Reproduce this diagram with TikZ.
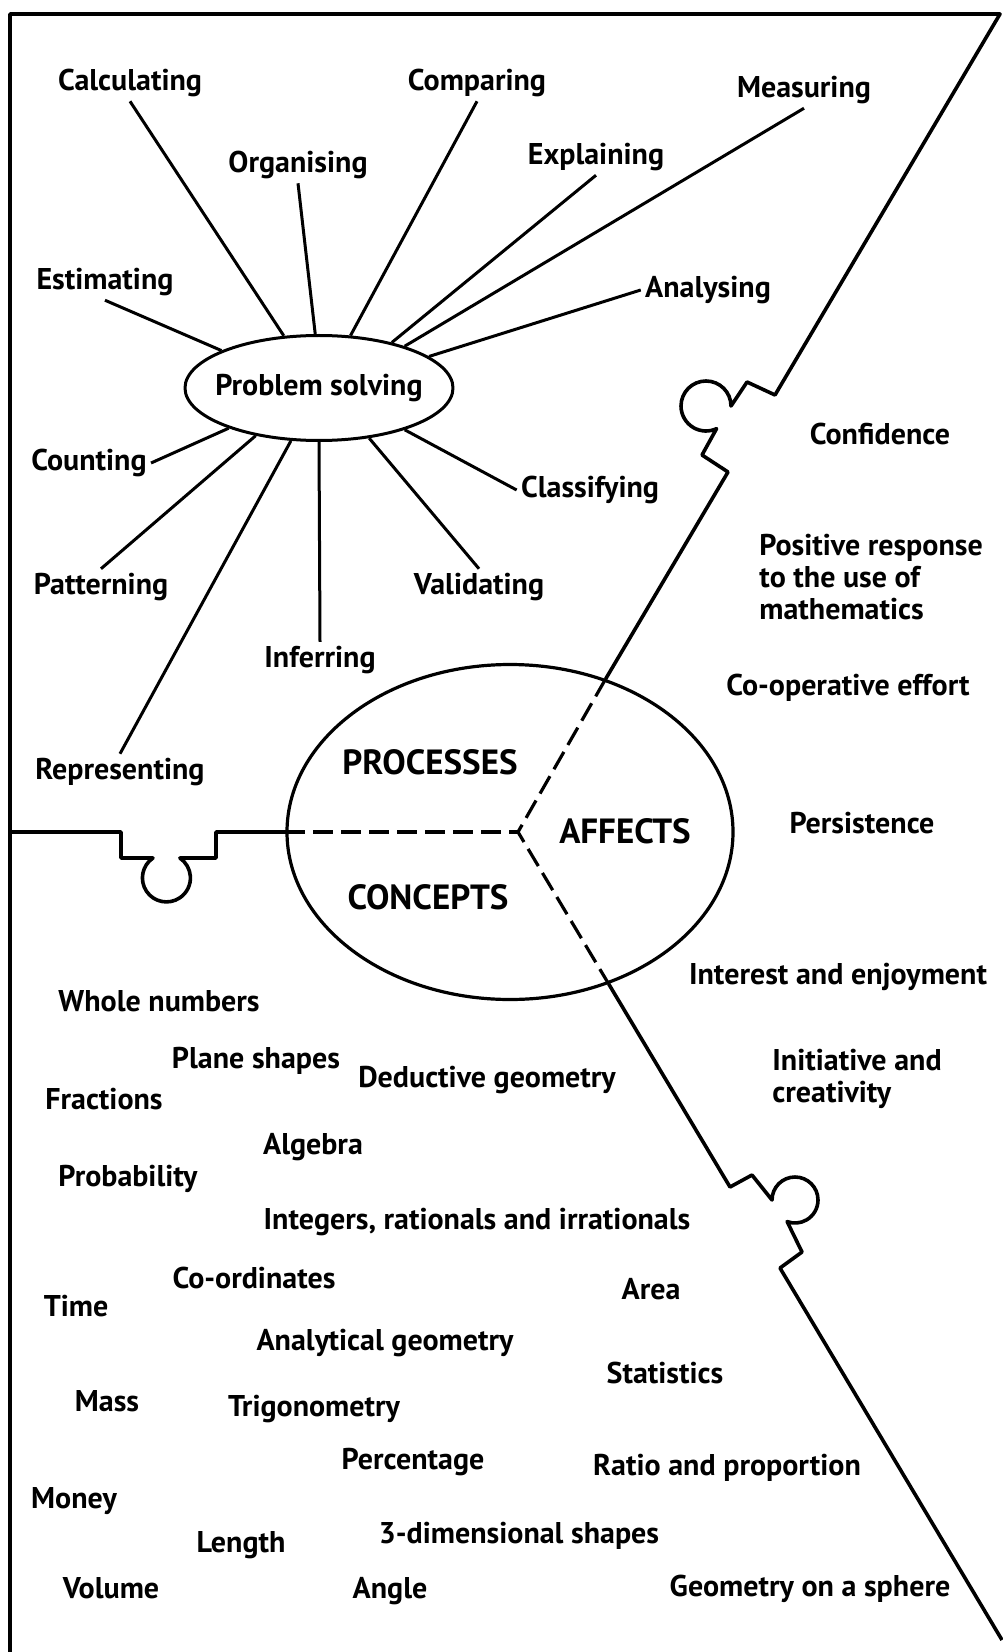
\documentclass[tikz,border=0pt]{standalone}
\usepackage{fontspec}
\setmainfont{PT Sans}
\usetikzlibrary{shapes.geometric}

\begin{document}
\begin{tikzpicture}[x=0.5pt,y=-0.5pt,line join=round,
  lbl/.style={font=\fontsize{15}{16}\selectfont\bfseries,inner sep=2pt},
  part/.style={font=\fontsize{17.5}{18}\selectfont\bfseries},
  spoke/.style={line width=1.5pt},
  rim/.style={line width=1.8pt},
  split/.style={line width=1.6pt,dash pattern=on 10pt off 4pt}]
 \useasboundingbox (0,0) rectangle (1002,1652);

 % the three parts
 \node[draw,ellipse,line width=1.6pt,minimum width=223pt,minimum height=167.5pt,inner sep=0pt] (Core) at (510,832) {};
 \coordinate (Hub) at (518,832);
 \node[part] (Proc) at (430,762) {PROCESSES};
 \node[part] (Aff) at (625,831) {AFFECTS};
 \node[part] (Conc) at (428,897) {CONCEPTS};

 % problem solving and its spokes
 \node[draw,ellipse,line width=1.5pt,minimum width=134pt,minimum height=52.5pt,inner sep=0pt] (PS) at (319,388) {};
 \node[lbl] (PSName) at (PS) {Problem solving};
 \node[lbl] (Calc) at (130,83) {Calculating};
 \node[lbl] (Org) at (298,165) {Organising};
 \node[lbl] (Comp) at (477,83) {Comparing};
 \node[lbl] (Expl) at (596,157) {Explaining};
 \node[lbl] (Meas) at (804,90) {Measuring};
 \node[lbl] (Est) at (105,282) {Estimating};
 \node[lbl] (Anal) at (708,290) {Analysing};
 \node[lbl] (Count) at (89,463) {Counting};
 \node[lbl] (Class) at (590,490) {Classifying};
 \node[lbl] (Patt) at (101,587) {Patterning};
 \node[lbl] (Valid) at (479,587) {Validating};
 \node[lbl] (Infer) at (320,660) {Inferring};
 \node[lbl] (Repr) at (120,772) {Representing};

 \path[spoke] (PS.124) edge (Calc.south)
  (PS.94) edge (Org.south)
  (PS.59) edge (Comp.south)
  (PS.32) edge (Expl.south)
  (PS.26) edge (Meas.south)
  (PS.16) edge (Anal.west)
  (PS.159) edge (Est.south)
  (PS.204) edge (Count.east)
  (PS.217) edge (Patt.north)
  (PS.242) edge (Repr.north)
  (PS.south) edge (Infer.north)
  (PS.-45) edge (Valid.north)
  (PS.-26) edge (Class.west);

 % affects
 \node[lbl] (Conf) at (880,434) {Confidence};
 \node[lbl,align=left,anchor=west] (Pos) at (755,577) {Positive response\\to the use of\\mathematics};
 \node[lbl] (Coop) at (848,688) {Co-operative effort};
 \node[lbl] (Pers) at (862,823) {Persistence};
 \node[lbl] (Inter) at (838,977) {Interest and enjoyment};
 \node[lbl,align=left,anchor=west] (Init) at (768,1079) {Initiative and\\creativity};

 % concepts
 \node[lbl] (Whole) at (159,1001) {Whole numbers};
 \node[lbl] (Plane) at (256,1061) {Plane shapes};
 \node[lbl] (Frac) at (104,1099) {Fractions};
 \node[lbl] (Deduc) at (487,1080) {Deductive geometry};
 \node[lbl] (Alg) at (313,1147) {Algebra};
 \node[lbl] (Prob) at (128,1179) {Probability};
 \node[lbl] (Integ) at (477,1222) {Integers, rationals and irrationals};
 \node[lbl] (Coord) at (254,1278) {Co-ordinates};
 \node[lbl] (Area) at (651,1289) {Area};
 \node[lbl] (Time) at (76,1306) {Time};
 \node[lbl] (Analyt) at (385,1343) {Analytical geometry};
 \node[lbl] (Stat) at (665,1373) {Statistics};
 \node[lbl] (Mass) at (107,1401) {Mass};
 \node[lbl] (Trig) at (314,1409) {Trigonometry};
 \node[lbl] (Perc) at (413,1462) {Percentage};
 \node[lbl] (Ratio) at (727,1468) {Ratio and proportion};
 \node[lbl] (Money) at (74,1501) {Money};
 \node[lbl] (Len) at (241,1545) {Length};
 \node[lbl] (Three) at (519,1536) {3-dimensional shapes};
 \node[lbl] (Vol) at (111,1588) {Volume};
 \node[lbl] (Angle) at (390,1591) {Angle};
 \node[lbl] (Sphere) at (810,1589) {Geometry on a sphere};

 % frame with the puzzle joints
 \draw[rim] (10,1652) -- (10,14) -- (1000,14) -- (775,395) -- (747,382) -- (731,406)
  arc[start angle=0,end angle=-295,radius=25] -- (702,455) -- (728,472) -- (Core.58);
 \draw[rim] (10,832) -- (121,832) -- (121,858) -- (153,858)
  arc[start angle=-124,end angle=-416,radius=24] -- (216,858) -- (216,832) -- (Core.west);
 \draw[rim] (Core.-57) -- (730,1187) -- (752,1175) -- (772,1200)
  arc[start angle=180,end angle=470,radius=23] -- (802,1252) -- (780,1268) -- (1002,1640);
 \draw[split] (Core.west) -- (Hub);
 \draw[split] (Core.58) -- (Hub) -- (Core.-57);
\end{tikzpicture}
\end{document}
